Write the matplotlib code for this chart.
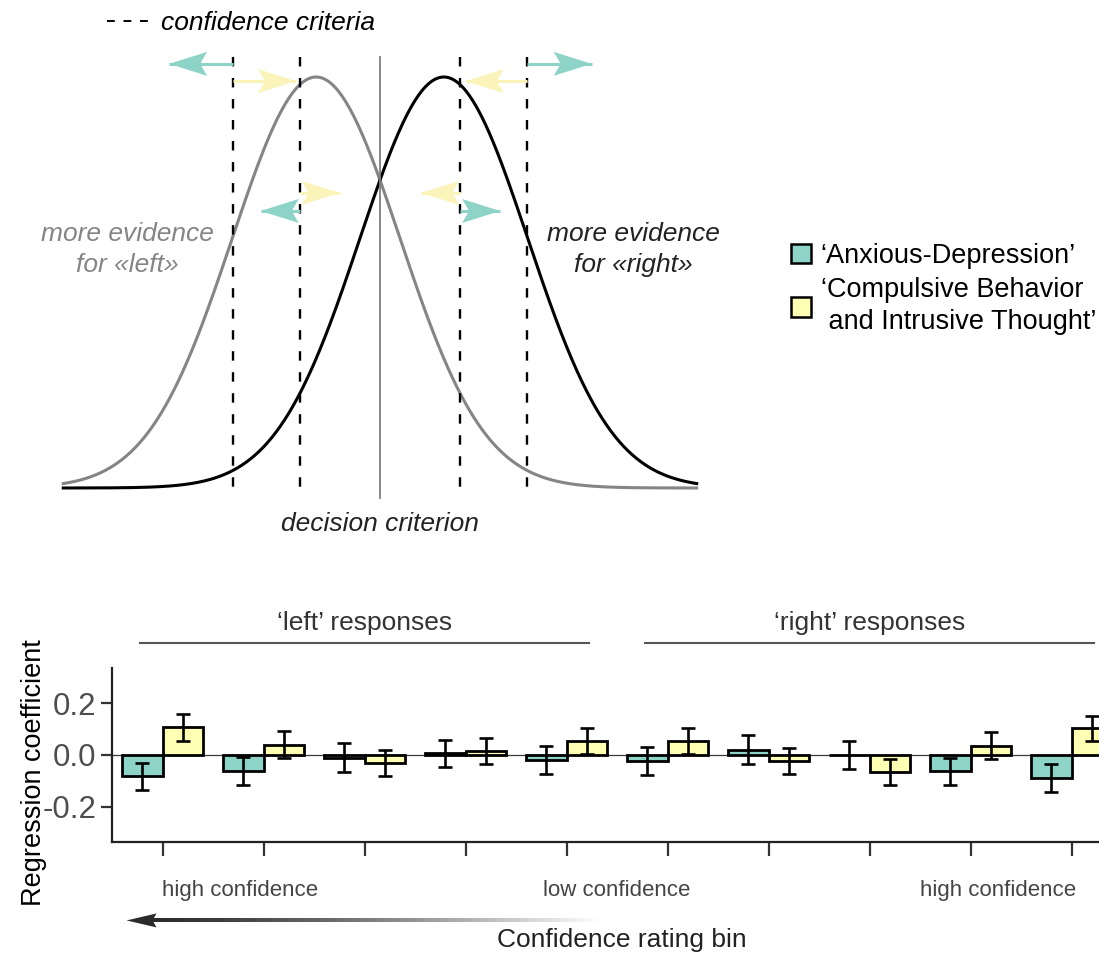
import matplotlib
matplotlib.use('Agg')
import matplotlib.pyplot as plt
import matplotlib.transforms as mtransforms
from matplotlib.patches import Polygon, Patch
from matplotlib.lines import Line2D
import numpy as np

plt.rcParams['font.family'] = ['Liberation Sans', 'DejaVu Sans']

# --- schematic (top): evidence distributions and criteria ---
dist_means = [-0.76, 0.76]          # «left», «right»
dist_sd = 1.0
criteria = [-1.75, -0.95, 0.95, 1.75]
decision = 0.0
# criterion shifts: (from criterion, to x, height, factor)
shifts = [
    (-1.75, -2.51, 1.032, 'ad'),
    (-1.75, -1.00, 0.990, 'cit'),
    (1.75, 2.52, 1.032, 'ad'),
    (1.75, 1.02, 0.990, 'cit'),
    (-0.95, -0.48, 0.718, 'cit'),
    (-0.95, -1.42, 0.674, 'ad'),
    (0.95, 0.49, 0.718, 'cit'),
    (0.95, 1.43, 0.674, 'ad'),
]

# --- regression coefficients (bottom) ---
bins = np.arange(10)
ad_coef = [-0.082, -0.063, -0.010, 0.006, -0.019, -0.022, 0.021, 0.001, -0.063, -0.088]
ad_se = [0.053, 0.054, 0.055, 0.053, 0.054, 0.054, 0.055, 0.054, 0.053, 0.053]
cit_coef = [0.106, 0.040, -0.031, 0.017, 0.054, 0.055, -0.023, -0.064, 0.036, 0.103]
cit_se = [0.051, 0.052, 0.050, 0.050, 0.050, 0.050, 0.050, 0.050, 0.051, 0.049]
groups = [("‘left’ responses", 0, 4), ("‘right’ responses", 5, 9)]
factor_names = ["‘Anxious-Depression’", "‘Compulsive Behavior\n and Intrusive Thought’"]

teal = '#8DD3C7'
yellow = '#FFFFB3'
colors = {'ad': teal, 'cit': '#FAF4BA'}

W, H = 1099, 958
fig = plt.figure(figsize=(W / 100, H / 100), dpi=100)


def px_axes(l, t, r, b):
    return fig.add_axes([l / W, 1 - b / H, (r - l) / W, (b - t) / H])


def arrow_head(ax, x, y, d, color, L=0.38, hw=0.12, N=0.31):
    tr = fig.dpi_scale_trans + mtransforms.ScaledTranslation(x, y, ax.transData)
    verts = [(0, 0), (-d * L, hw), (-d * N, 0), (-d * L, -hw)]
    ax.add_patch(Polygon(verts, closed=True, transform=tr, facecolor=color,
                         edgecolor='none', clip_on=False, zorder=5))


# top panel
ax1 = px_axes(63.3, 77, 696.7, 488)
ax1.set_xlim(-3.77, 3.77)
ax1.set_ylim(0, 1)
ax1.axis('off')

x = np.linspace(-3.77, 3.77, 600)
for m, c in zip(dist_means, ['#858585', 'black']):
    ax1.plot(x, np.exp(-0.5 * ((x - m) / dist_sd) ** 2), color=c, lw=2.2, clip_on=False)
ax1.plot([decision, decision], [-0.024, 1.049], color='#7f7f7f', lw=1.3, clip_on=False)
for c in criteria:
    ax1.plot([c, c], [1.049, 0], color='black', lw=1.7, dashes=(4, 4.9), clip_on=False)

for x0, x1, y, f in shifts:
    d = 1 if x1 > x0 else -1
    ax1.plot([x0, x1], [y, y], color=colors[f], lw=2.2, solid_capstyle='butt', clip_on=False)
    arrow_head(ax1, x1, y, d, colors[f])

ax1.text(-3.01, 0.58, 'more evidence\nfor «left»', color='#858585', style='italic',
         size=19, ha='center', va='center', linespacing=1.4)
ax1.text(3.02, 0.58, 'more evidence\nfor «right»', color='#222222', style='italic',
         size=19, ha='center', va='center', linespacing=1.4)
ax1.text(decision, -0.088, 'decision criterion', color='#222222', style='italic',
         size=19, ha='center', va='center')

ax1.legend(handles=[Line2D([], [], color='black', lw=1.4, dashes=(4, 4.5))],
           labels=['confidence criteria'], loc='upper left',
           bbox_to_anchor=(107 / W, 1 - 11 / H), bbox_transform=fig.transFigure,
           frameon=False, prop={'style': 'italic', 'size': 19}, handlelength=1.55,
           handletextpad=0.5, borderpad=0, borderaxespad=0)

leg = fig.legend(handles=[Patch(facecolor=teal, edgecolor='black', lw=1.8),
                          Patch(facecolor=yellow, edgecolor='black', lw=1.8)],
                 labels=factor_names, loc='upper left',
                 bbox_to_anchor=(791 / W, 1 - 243 / H),
                 frameon=False, fontsize=19.5, handlelength=0.75, handleheight=0.75,
                 handletextpad=0.35, labelspacing=0.3, borderpad=0, borderaxespad=0)
for t in leg.get_texts():
    t.set_linespacing(1.3)

# bottom panel
ax2 = px_axes(112, 668, 1122, 842)
ax2.set_xlim(-0.5, 9.5)
ax2.set_ylim(-0.335, 0.335)
ax2.axhline(0, color='#3a3a3a', lw=0.9, zorder=1)
err = dict(ecolor='black', elinewidth=1.9, capsize=5, capthick=1.9)
ax2.bar(bins - 0.2, ad_coef, width=0.4, color=teal, edgecolor='black', lw=2.0,
        yerr=ad_se, error_kw=err, zorder=3)
ax2.bar(bins + 0.2, cit_coef, width=0.4, color=yellow, edgecolor='black', lw=2.0,
        yerr=cit_se, error_kw=err, zorder=3)

for s in ['top', 'right']:
    ax2.spines[s].set_visible(False)
for s in ['left', 'bottom']:
    ax2.spines[s].set_linewidth(1.6)
    ax2.spines[s].set_color('#222222')
ax2.set_xticks(bins)
ax2.set_xticklabels([])
ax2.tick_params(axis='x', length=10, width=1.6, color='#333333')
ax2.set_yticks([-0.2, 0.0, 0.2])
ax2.set_yticklabels(['-0.2', '0.0', '0.2'])
ax2.tick_params(axis='y', length=8, width=1.6, color='#333333', labelsize=22.5,
                labelcolor='#4d4d4d', pad=3)
ax2.set_ylabel('Regression coefficient', size=19.5)
ax2.yaxis.set_label_coords(-0.064, 0.40)

for name, a, b in groups:
    ax2.plot([a - 0.22, b + 0.22], [0.431, 0.431], color='#555555', lw=1.5, clip_on=False)
    ax2.text((a + b) / 2, 0.51, name, ha='center', va='center', size=19, color='#333333')

ax2.text(0, -0.523, 'high confidence', ha='left', va='center', size=16, color='#444444')
ax2.text(4.5, -0.523, 'low confidence', ha='center', va='center', size=16, color='#444444')
ax2.text(9.05, -0.523, 'high confidence', ha='right', va='center', size=16, color='#444444')
ax2.text(4.55, -0.712, 'Confidence rating bin', ha='center', va='center', size=19,
         color='#222222')

# fading arrow towards high confidence
ya = -0.637
ramp = np.linspace(0, 1, 300)
grad = np.zeros((1, ramp.size, 4))
grad[..., :3] = 0.17
grad[0, :, 3] = np.clip(1 - ramp ** 1.3, 0, 1)
ax2.imshow(grad, extent=[-0.1, 4.34, ya - 0.0065, ya + 0.0065], aspect='auto',
           interpolation='bilinear', clip_on=False, zorder=4)
arrow_head(ax2, -0.356, ya, -1, '#2b2b2b', L=0.30, hw=0.07, N=0.26)
ax2.set_xlim(-0.5, 9.5)
ax2.set_ylim(-0.335, 0.335)

fig.savefig('out.png', dpi=100)
